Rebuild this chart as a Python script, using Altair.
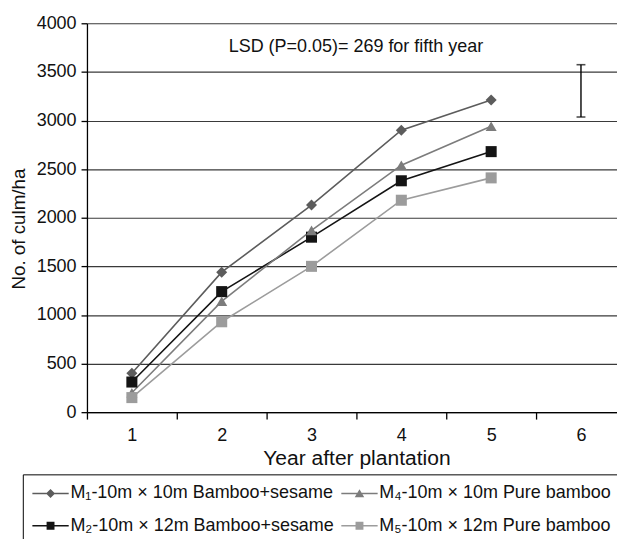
import altair as alt
import pandas as pd

# ---------------- data ----------------
years = ["1", "2", "3", "4", "5"]
all_years = ["1", "2", "3", "4", "5", "6"]
# order: column-major legend -> column 1: M1, M2 ; column 2: M4, M5
series_names = [
    "M₁-10m × 10m Bamboo+sesame",
    "M₂-10m × 12m Bamboo+sesame",
    "M₄-10m × 10m Pure bamboo",
    "M₅-10m × 12m Pure bamboo",
]
m1 = [400, 1440, 2130, 2900, 3210]
m2 = [310, 1240, 1800, 2380, 2680]
m4 = [200, 1140, 1870, 2540, 2940]
m5 = [150, 930, 1500, 2180, 2410]
series_values = [m1, m2, m4, m5]

lsd_year = ["6"]
lsd_low = [3036]
lsd_high = [3574]
lsd_text = ["LSD (P=0.05)= 269 for fifth year"]
lsd_text_year = ["3"]
lsd_text_value = [3760]

# ---------------- styles ----------------
line_colors = ["#5c5c5c", "#141414", "#7c7c7c", "#9c9c9c"]
marker_shapes = ["diamond", "square", "triangle-up", "square"]
seg = "M-4.6,-0.2H4.6V0.2H-4.6Z"
legend_paths = [
    seg + "M0,-1.15L1.15,0L0,1.15L-1.15,0Z",
    seg + "M-1,-1H1V1H-1Z",
    seg + "M0,-1.1L1.2,0.95H-1.2Z",
    seg + "M-1,-1H1V1H-1Z",
]
FONT = "Liberation Sans"
FS = 18.2

rows = []
for name, vals in zip(series_names, series_values):
    for yr, v in zip(years, vals):
        rows.append({"year": yr, "value": v, "series": name})
df = pd.DataFrame(rows)

err_df = pd.DataFrame({"year": lsd_year, "low": lsd_low, "high": lsd_high})
txt_df = pd.DataFrame({"year": lsd_text_year, "value": lsd_text_value, "label": lsd_text})

X_RANGE = [0, 546]


def x_scale():
    return alt.Scale(type="band", domain=all_years, paddingInner=0, paddingOuter=0, range=X_RANGE)


x_enc = alt.X(
    "year:O",
    scale=x_scale(),
    axis=alt.Axis(
        title="Year after plantation",
        labelAngle=0,
        tickBand="extent",
        tickSize=7,
        tickWidth=1.3,
        tickColor="black",
        domainColor="black",
        domainWidth=1.3,
        labelFont=FONT,
        labelFontSize=FS,
        labelColor="#111",
        labelPadding=8,
        titleFont=FONT,
        titleFontSize=21.3,
        titleFontWeight="normal",
        titleColor="#111",
        titlePadding=4,
        grid=False,
    ),
)
y_scale = alt.Scale(domain=[0, 4000], nice=False)
y_enc = alt.Y(
    "value:Q",
    scale=y_scale,
    axis=alt.Axis(
        title="No. of culm/ha",
        values=list(range(0, 4001, 500)),
        format="d",
        grid=True,
        gridColor="#3a3a3a",
        gridWidth=1.2,
        tickSize=6,
        tickWidth=1.3,
        tickColor="black",
        domainColor="black",
        domainWidth=1.3,
        labelFont=FONT,
        labelFontSize=FS,
        labelColor="#111",
        labelPadding=5,
        titleFont=FONT,
        titleFontSize=19,
        titleFontWeight="normal",
        titleColor="#111",
        titleAngle=270,
        titleBaseline="alphabetic",
        titleX=-63,
        titleY=208,
        titleAlign="center",
    ),
)

color_scale = alt.Scale(domain=series_names, range=line_colors)

lines = alt.Chart(df).mark_line(strokeWidth=1.6).encode(
    x=x_enc,
    y=y_enc,
    color=alt.Color("series:N", scale=color_scale, legend=None),
    detail="series:N",
)

points = alt.Chart(df).mark_point(filled=True, opacity=1, size=125).encode(
    x=x_enc,
    y=y_enc,
    color=alt.Color("series:N", scale=color_scale, legend=None),
    shape=alt.Shape("series:N", scale=alt.Scale(domain=series_names, range=marker_shapes), legend=None),
)


def make_legend():
    return alt.Legend(
        title=None,
        orient="none",
        legendX=-65,
        legendY=457,
        columns=2,
        strokeColor="black",
        padding=10,
        labelFont=FONT,
        labelFontSize=FS,
        labelColor="#111",
        labelLimit=400,
        symbolSize=64,
        symbolOffset=9,
        labelOffset=11,
        columnPadding=6,
        rowPadding=14,
        symbolStrokeWidth=0,
    )


legend_layer = (
    alt.Chart(df)
    .transform_filter("false")
    .mark_point(filled=True, opacity=1)
    .encode(
        x=x_enc,
        y=y_enc,
        color=alt.Color("series:N", scale=alt.Scale(domain=series_names, range=line_colors), legend=make_legend()),
        shape=alt.Shape("series:N", scale=alt.Scale(domain=series_names, range=legend_paths), legend=make_legend()),
    )
)

err_rule = alt.Chart(err_df).mark_rule(color="black", strokeWidth=1.4).encode(
    x=alt.X("year:O", scale=x_scale()),
    y=alt.Y("low:Q", scale=y_scale),
    y2="high:Q",
)
cap_low = alt.Chart(err_df).mark_tick(color="black", thickness=1.6, size=9).encode(
    x=alt.X("year:O", scale=x_scale()),
    y=alt.Y("low:Q", scale=y_scale),
)
cap_high = alt.Chart(err_df).mark_tick(color="black", thickness=1.6, size=9).encode(
    x=alt.X("year:O", scale=x_scale()),
    y=alt.Y("high:Q", scale=y_scale),
)

text = alt.Chart(txt_df).mark_text(font=FONT, fontSize=FS, color="#111", dx=45).encode(
    x=alt.X("year:O", scale=x_scale()),
    y=alt.Y("value:Q", scale=y_scale),
    text="label:N",
)

chart = (
    alt.layer(lines, points, err_rule, cap_low, cap_high, text, legend_layer)
    .resolve_scale(color="independent", shape="independent")
    .properties(
        width=537,
        height=394,
        autosize=alt.AutoSizeParams(type="none"),
        padding={"left": 80, "top": 12, "right": 0, "bottom": 125},
        background="white",
    )
    .configure_view(stroke=None)
)

chart.save("out.html", embed_options={"renderer": "svg", "actions": False})
